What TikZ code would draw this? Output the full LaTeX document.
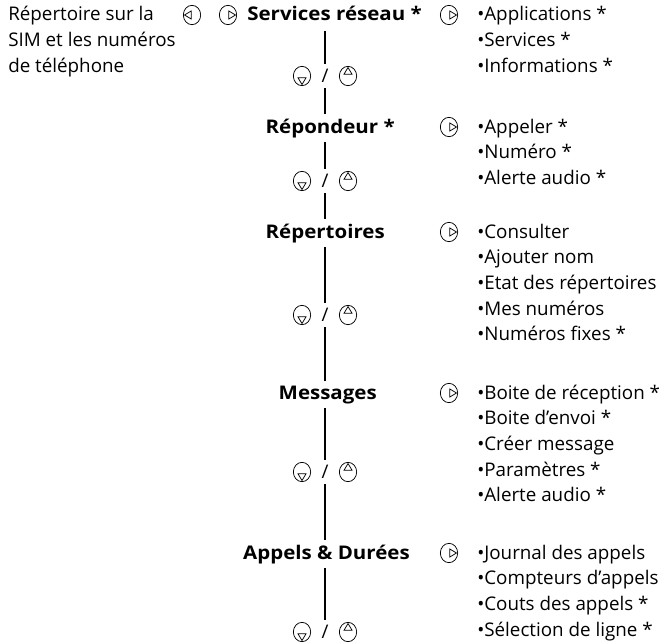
\documentclass[tikz,border=0pt]{standalone}
\usepackage{fontspec}
\setmainfont{Open Sans}
\newfontfamily\headfont[FakeStretch=1.09]{Open Sans}
\usetikzlibrary{shapes.geometric}
\begin{document}
\begin{tikzpicture}[x=0.75pt,y=-0.75pt,
  txt/.style={anchor=base west, inner sep=0pt, font=\fontsize{14.1pt}{17pt}\selectfont},
  head/.style={anchor=base east, inner xsep=0pt, inner ysep=3pt, font=\fontsize{14.1pt}{17pt}\headfont\bfseries},
  ico/.style={ellipse, draw, line width=0.55pt, minimum width=13pt, minimum height=14.5pt, inner sep=0pt},
  icoR/.style={ico, path picture={\draw[line width=0.55pt] ([xshift=-0.9pt]path picture bounding box.east) -- ++(-5pt,3pt) -- ++(0,-6pt) -- cycle;}},
  icoL/.style={ico, path picture={\draw[line width=0.55pt] ([xshift=0.9pt]path picture bounding box.west) -- ++(5pt,3pt) -- ++(0,-6pt) -- cycle;}},
  icoD/.style={ico, path picture={\draw[line width=0.55pt] ([yshift=0.9pt]path picture bounding box.south) -- ++(-3pt,5pt) -- ++(6pt,0) -- cycle;}},
  icoU/.style={ico, path picture={\draw[line width=0.55pt] ([yshift=-0.9pt]path picture bounding box.north) -- ++(-3pt,-5pt) -- ++(6pt,0) -- cycle;}},
  navsl/.style={inner sep=0pt, minimum height=18pt, font=\fontsize{14.1pt}{17pt}\selectfont},
  vline/.style={line width=1.8pt}
]
\useasboundingbox (0,0) rectangle (666,642);

% left description
\node[txt] (d1) at (8,21) {Répertoire sur la};
\node[txt] (d2) at (8,46.7) {SIM et les numéros};
\node[txt] (d3) at (8,72.4) {de téléphone};
\node[icoL] (il) at (192,15) {};
\node[icoR] (ir) at (228,15) {};

% headings
\node[head] (h1) at (422,21) {Services réseau *};
\node[head] (h2) at (395,133) {Répondeur *};
\node[head] (h3) at (385,238) {Répertoires};
\node[head] (h4) at (377,399) {Messages};
\node[head] (h5) at (410,559) {Appels \& Durées};

% navigation
\foreach \i/\y in {1/76,2/181,3/315,4/472,5/632}{
  \node[navsl] (n\i) at (325,\y) {/};
  \node[icoD] (nd\i) at (302,\y) {};
  \node[icoU] (nu\i) at (348,\y) {};
}

% vertical connectors
\draw[vline] ([yshift=-4pt]h1.south -| n1) -- (n1.north);
\draw[vline] (n1.south) -- (h2.north -| n1);
\draw[vline] (h2.south -| n1) -- (n2.north);
\draw[vline] (n2.south) -- (h3.north -| n2);
\draw[vline] (h3.south -| n2) -- (n3.north);
\draw[vline] (n3.south) -- (h4.north -| n3);
\draw[vline] (h4.south -| n3) -- (n4.north);
\draw[vline] (n4.south) -- (h5.north -| n4);
\draw[vline] (h5.south -| n4) -- (n5.north);

% right icons
\foreach \i/\y in {1/15,2/127,3/232,4/393,5/553}{
  \node[icoR] (c\i) at (449,\y) {};
}

% lists
\foreach \t [count=\k from 0] in {•Applications *,•Services *,•Informations *}
  \node[txt] (a\k) at (477,21+25.7*\k) {\t};
\foreach \t [count=\k from 0] in {•Appeler *,•Numéro *,•Alerte audio *}
  \node[txt] (b\k) at (477,133+25.7*\k) {\t};
\foreach \t [count=\k from 0] in {•Consulter,•Ajouter nom,•Etat des répertoires,•Mes numéros,•Numéros fixes *}
  \node[txt] (e\k) at (477,238+25.7*\k) {\t};
\foreach \t [count=\k from 0] in {•Boite de réception *,•Boite d'envoi *,•Créer message,•Paramètres *,•Alerte audio *}
  \node[txt] (m\k) at (477,399+25.7*\k) {\t};
\foreach \t [count=\k from 0] in {•Journal des appels,•Compteurs d'appels,•Couts des appels *,•Sélection de ligne *}
  \node[txt] (j\k) at (477,559+25.7*\k) {\t};
\end{tikzpicture}
\end{document}
